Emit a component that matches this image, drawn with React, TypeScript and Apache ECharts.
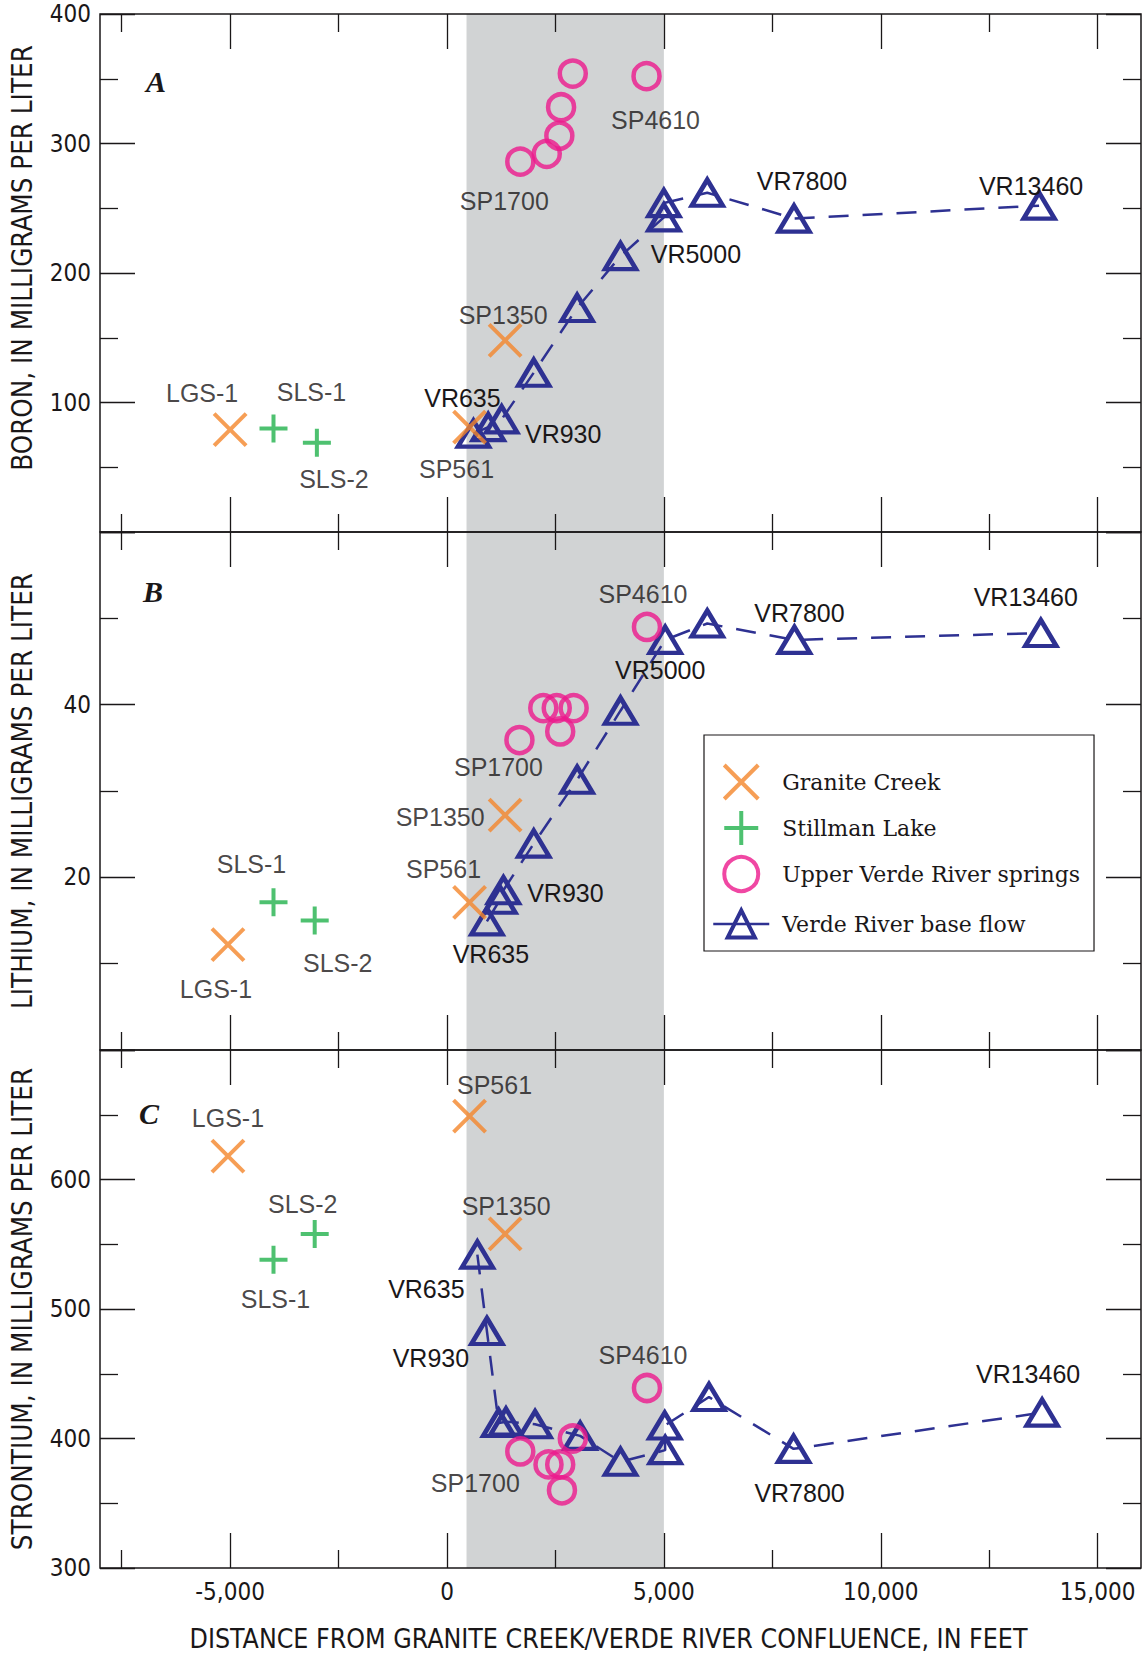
import React, { useEffect, useRef } from "react";
import * as echarts from "echarts";

// ---------------- DATA ----------------
const xMin = -8000;
const xMax = 16000;
const xMajorTicks = [-5000, 0, 5000, 10000, 15000];
const xMinorTicks = [-7500, -2500, 2500, 7500, 12500];
const shadedRange = [450, 5000];

const seriesNames = {
  granite: "Granite Creek",
  stillman: "Stillman Lake",
  springs: "Upper Verde River springs",
  baseflow: "Verde River base flow",
};

// Panel A: Boron
const boronGranite = [[-5000, 79], [520, 81], [1340, 148]];
const boronStillman = [[-4000, 80], [-3000, 69]];
const boronSprings = [[1690, 286], [2300, 292], [2590, 306], [2630, 328], [2900, 354], [4600, 352]];
const boronBaseflow = [
  [610, 76], [950, 81], [1260, 87], [2000, 123], [3000, 173], [4000, 213],
  [5000, 243], [5000, 254], [6000, 262], [8000, 242], [13650, 252],
];
const boronSites = [
  ["granite", 0, "LGS-1"], ["stillman", 0, "SLS-1"], ["stillman", 1, "SLS-2"],
  ["baseflow", 0, "VR635"], ["baseflow", 1, "VR930"], ["granite", 1, "SP561"],
  ["granite", 2, "SP1350"], ["springs", 0, "SP1700"], ["springs", 5, "SP4610"],
  ["baseflow", 6, "VR5000"], ["baseflow", 9, "VR7800"], ["baseflow", 10, "VR13460"],
];

// Panel B: Lithium
const lithiumGranite = [[-5050, 12.2], [520, 17.1], [1340, 27.2]];
const lithiumStillman = [[-4000, 17.1], [-3050, 15.0]];
const lithiumSprings = [[1670, 35.9], [2220, 39.6], [2530, 39.6], [2610, 36.9], [2920, 39.6], [4610, 49.0]];
const lithiumBaseflow = [
  [920, 14.9], [1220, 17.4], [1300, 18.5], [2000, 23.9], [3000, 31.3], [4000, 39.3],
  [5030, 47.5], [6000, 49.4], [8010, 47.5], [13690, 48.3],
];
const lithiumSites = [
  ["springs", 5, "SP4610"], ["baseflow", 8, "VR7800"], ["baseflow", 9, "VR13460"],
  ["baseflow", 6, "VR5000"], ["springs", 0, "SP1700"], ["granite", 2, "SP1350"],
  ["granite", 1, "SP561"], ["baseflow", 2, "VR930"], ["baseflow", 0, "VR635"],
  ["stillman", 0, "SLS-1"], ["stillman", 1, "SLS-2"], ["granite", 0, "LGS-1"],
];

// Panel C: Strontium
const strontiumGranite = [[-5050, 618], [520, 649], [1340, 558]];
const strontiumStillman = [[-4000, 538], [-3050, 558]];
const strontiumSprings = [[1690, 390], [2340, 380], [2610, 380], [2650, 360], [2900, 400], [4610, 439]];
const strontiumBaseflow = [
  [700, 542], [920, 483], [1190, 412], [1360, 413], [2030, 411], [3070, 402],
  [4000, 382], [5030, 391], [5020, 410], [6040, 432], [7990, 392], [13720, 420],
];
const strontiumSites = [
  ["granite", 0, "LGS-1"], ["stillman", 1, "SLS-2"], ["stillman", 0, "SLS-1"],
  ["granite", 1, "SP561"], ["granite", 2, "SP1350"], ["baseflow", 0, "VR635"],
  ["baseflow", 1, "VR930"], ["springs", 0, "SP1700"], ["springs", 5, "SP4610"],
  ["baseflow", 10, "VR7800"], ["baseflow", 11, "VR13460"],
];

// ---------------- LAYOUT / STYLE ----------------
const labelOffsetsA = {
  "LGS-1": [-28, -37], "SLS-1": [38, -36], "SLS-2": [17, 36], VR635: [-11, -36],
  VR930: [75, 7], SP561: [-13, 42], SP1350: [-2, -25], SP1700: [-16, 39],
  SP4610: [9, 44], VR5000: [32, 37], VR7800: [8, -38], VR13460: [-8, -20],
};
const labelOffsetsB = {
  SP4610: [-4, -33], VR7800: [5, -27], VR13460: [-15, -36], VR5000: [-5, 30],
  SP1700: [-21, 27], SP1350: [-65, 2], SP561: [-26, -33], VR930: [62, 3],
  VR635: [4, 33], "SLS-1": [-22, -38], "SLS-2": [23, 42], "LGS-1": [-12, 44],
};
const labelOffsetsC = {
  "LGS-1": [0, -38], "SLS-2": [-12, -30], "SLS-1": [2, 39], SP561: [25, -31],
  SP1350: [1, -28], VR635: [-51, 34], VR930: [-56, 27], SP1700: [-45, 32],
  SP4610: [-4, -33], VR7800: [6, 44], VR13460: [-14, -39],
};

const INK = "#1a1718";
const ORANGE = "#F4862A";
const GREEN = "#22B24C";
const PINK = "#EC198C";
const BLUE = "#2E3192";
const BAND = "#D1D3D4";
const NARROW = "'Liberation Sans Narrow', 'DejaVu Sans Condensed', 'Liberation Sans', sans-serif";
const SANS = "'Liberation Sans', Arial, sans-serif";
const SERIF = "'DejaVu Serif', 'Liberation Serif', serif";

const GRID_LEFT = 99;
const GRID_TOP = 14;
const GRID_W = 1042;
const GRID_H = 518;

const panels = [
  {
    letter: "A",
    title: "BORON, IN MILLIGRAMS PER LITER",
    titleShift: 30,
    yMin: 0, yMax: 400, yInterval: 100, hide: [0],
    granite: boronGranite, stillman: boronStillman, springs: boronSprings, baseflow: boronBaseflow,
    sites: boronSites, offsets: labelOffsetsA,
  },
  {
    letter: "B",
    title: "LITHIUM, IN MILLIGRAMS PER LITER",
    titleShift: 0,
    yMin: 0, yMax: 60, yInterval: 20, hide: [0, 60],
    granite: lithiumGranite, stillman: lithiumStillman, springs: lithiumSprings, baseflow: lithiumBaseflow,
    sites: lithiumSites, offsets: labelOffsetsB,
  },
  {
    letter: "C",
    title: "STRONTIUM, IN MILLIGRAMS PER LITER",
    titleShift: 0,
    yMin: 300, yMax: 700, yInterval: 100, hide: [700],
    granite: strontiumGranite, stillman: strontiumStillman, springs: strontiumSprings, baseflow: strontiumBaseflow,
    sites: strontiumSites, offsets: labelOffsetsC,
  },
];

const letterPos = [[156, 81], [153, 591], [149, 1113]];

function fmtThousands(v: number) {
  const s = Math.abs(v).toString().replace(/\B(?=(\d{3})+(?!\d))/g, ",");
  return (v < 0 ? "-" : "") + s;
}

const X_PATH = "path://M0,0L10,10M10,0L0,10";
const PLUS_PATH = "path://M5,0L5,10M0,5L10,5";

function buildOption() {
  const grids: any[] = [];
  const xAxes: any[] = [];
  const yAxes: any[] = [];
  const series: any[] = [];

  panels.forEach((p, gi) => {
    grids.push({
      left: GRID_LEFT,
      top: GRID_TOP + gi * GRID_H,
      width: GRID_W,
      height: GRID_H,
      show: true,
      borderColor: INK,
      borderWidth: 1.5,
      backgroundColor: "transparent",
      z: 6,
    });

    const isBottom = gi === panels.length - 1;
    const mkX = (position: string, ticks: number[], len: number, labels: boolean) => ({
      type: "value",
      gridIndex: gi,
      min: xMin,
      max: xMax,
      position,
      z: 6,
      axisLine: { show: false, onZero: false },
      splitLine: { show: false },
      axisTick: {
        show: true,
        inside: true,
        length: len,
        customValues: ticks,
        lineStyle: { color: INK, width: 1.3 },
      },
      axisLabel: {
        show: labels,
        customValues: ticks,
        formatter: (v: number) => fmtThousands(v),
        margin: 12,
        color: INK,
        fontFamily: NARROW,
        fontSize: 24,
      },
      ...(labels
        ? {
            name: "DISTANCE FROM GRANITE CREEK/VERDE RIVER CONFLUENCE, IN FEET",
            nameLocation: "middle",
            nameGap: 57,
            nameTextStyle: { color: INK, fontFamily: NARROW, fontSize: 26.5, padding: [0, 24, 0, 0] },
          }
        : {}),
    });
    xAxes.push(mkX("bottom", xMajorTicks, 35, isBottom));
    xAxes.push(mkX("bottom", xMinorTicks, 18, false));
    xAxes.push(mkX("top", xMajorTicks, 35, false));
    xAxes.push(mkX("top", xMinorTicks, 18, false));

    const mkY = (position: string, labels: boolean) => ({
      type: "value",
      gridIndex: gi,
      min: p.yMin,
      max: p.yMax,
      interval: p.yInterval,
      position,
      z: 6,
      axisLine: { show: false, onZero: false },
      splitLine: { show: false },
      axisTick: { show: true, inside: true, length: 35, lineStyle: { color: INK, width: 1.3 } },
      minorTick: { show: true, splitNumber: 2, length: 18, lineStyle: { color: INK, width: 1.3 } },
      minorSplitLine: { show: false },
      axisLabel: {
        show: labels,
        formatter: (v: number) => (p.hide.includes(v) ? "" : String(v)),
        margin: 9,
        color: INK,
        fontFamily: NARROW,
        fontSize: 24,
      },
      ...(labels
        ? {
            name: p.title,
            nameLocation: "middle",
            nameRotate: 90,
            nameGap: 64,
            nameTextStyle: {
              color: INK,
              fontFamily: NARROW,
              fontSize: 27.5,
              padding: [0, 0, 0, p.titleShift],
            },
          }
        : {}),
    });
    yAxes.push(mkY("left", true));
    yAxes.push(mkY("right", false));

    const xi = gi * 4;
    const yi = gi * 2;

    const labelBase = {
      show: false,
      position: "inside",
      color: INK,
      fontFamily: SANS,
      fontSize: 25,
      align: "center",
      verticalAlign: "middle",
    };

    const withLabels = (key: string, arr: number[][]) =>
      arr.map((pt, idx) => {
        const site = p.sites.find((s) => s[0] === key && s[1] === idx);
        if (!site) return { value: pt };
        const name = site[2] as string;
        const off = (p.offsets as any)[name] || [0, 0];
        return { value: pt, label: { show: true, formatter: name, offset: off } };
      });

    // shaded band
    series.push({
      type: "scatter",
      xAxisIndex: xi,
      yAxisIndex: yi,
      data: [],
      z: 1,
      silent: true,
      markArea: {
        silent: true,
        itemStyle: { color: BAND },
        data: [[{ xAxis: shadedRange[0] }, { xAxis: shadedRange[1] }]],
      },
    });

    series.push({
      type: "line",
      name: seriesNames.baseflow,
      xAxisIndex: xi,
      yAxisIndex: yi,
      z: 3,
      data: withLabels("baseflow", p.baseflow),
      symbol: "triangle",
      symbolSize: [31, 26],
      showAllSymbol: true,
      itemStyle: { color: "transparent", borderColor: BLUE, borderWidth: 4.5 },
      lineStyle: { color: BLUE, width: 2.5, type: [20, 14] },
      label: labelBase,
      emphasis: { disabled: true },
    });
    series.push({
      type: "scatter",
      name: seriesNames.springs,
      xAxisIndex: xi,
      yAxisIndex: yi,
      z: 4,
      data: withLabels("springs", p.springs),
      symbol: "circle",
      symbolSize: 26,
      itemStyle: { color: "transparent", borderColor: PINK, borderWidth: 4.5 },
      label: labelBase,
      emphasis: { disabled: true },
    });
    series.push({
      type: "scatter",
      name: seriesNames.granite,
      xAxisIndex: xi,
      yAxisIndex: yi,
      z: 4,
      data: withLabels("granite", p.granite),
      symbol: X_PATH,
      symbolSize: 32,
      itemStyle: { color: "transparent", borderColor: ORANGE, borderWidth: 4 },
      label: labelBase,
      emphasis: { disabled: true },
    });
    series.push({
      type: "scatter",
      name: seriesNames.stillman,
      xAxisIndex: xi,
      yAxisIndex: yi,
      z: 4,
      data: withLabels("stillman", p.stillman),
      symbol: PLUS_PATH,
      symbolSize: 28,
      itemStyle: { color: "transparent", borderColor: GREEN, borderWidth: 4 },
      label: labelBase,
      emphasis: { disabled: true },
    });
  });

  const graphics = panels.map((p, gi) => ({
    type: "text",
    x: letterPos[gi][0],
    y: letterPos[gi][1],
    z: 10,
    style: {
      text: p.letter,
      fill: INK,
      font: "italic bold 30px 'Liberation Serif', 'DejaVu Serif', serif",
      textAlign: "center",
      textVerticalAlign: "middle",
    },
  }));

  return {
    animation: false,
    backgroundColor: "#ffffff",
    grid: grids,
    xAxis: xAxes,
    yAxis: yAxes,
    series,
    graphic: graphics,
    legend: {
      orient: "vertical",
      left: 704,
      top: 735,
      padding: [28, 14, 4, 8],
      itemGap: 8,
      itemWidth: 56,
      itemHeight: 34,
      borderColor: INK,
      borderWidth: 1.2,
      backgroundColor: "#ffffff",
      selectedMode: false,
      z: 8,
      textStyle: { color: INK, fontFamily: SERIF, fontSize: 22, padding: [0, 0, 0, 8] },
      itemStyle: { borderWidth: 4 },
      lineStyle: { width: 2.5, type: "solid" },
      data: [
        seriesNames.granite,
        seriesNames.stillman,
        seriesNames.springs,
        {
          name: seriesNames.baseflow,
          textStyle: { color: INK, fontFamily: SERIF, fontSize: 22, lineHeight: 46, padding: [0, 0, 0, 8] },
        },
      ],
    },
  };
}

export default function App() {
  const ref = useRef<HTMLDivElement>(null);
  useEffect(() => {
    document.body.style.margin = "0";
    if (!ref.current) return;
    const chart = echarts.init(ref.current, undefined, { renderer: "svg" });
    chart.setOption(buildOption() as any);
    return () => chart.dispose();
  }, []);
  return <div ref={ref} style={{ width: 1142, height: 1653, background: "#fff" }} />;
}
